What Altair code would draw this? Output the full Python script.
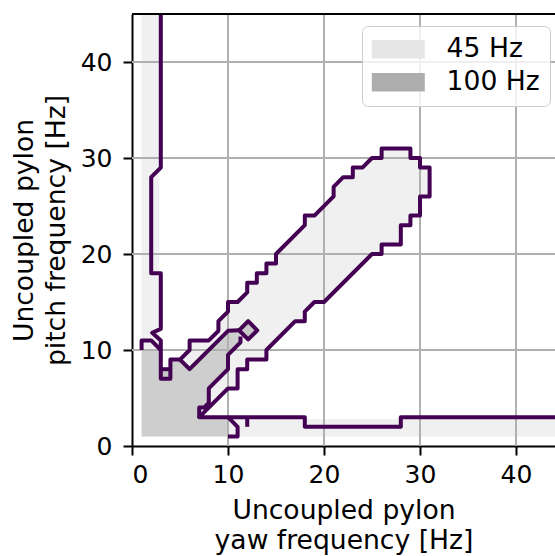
import altair as alt
import pandas as pd

# ---------------- data ----------------
X_TICKS = [0, 10, 20, 30, 40]
Y_TICKS = [0, 10, 20, 30, 40]
GRID_VALUES = [10, 20, 30, 40]
X_MAX = 44.06
Y_MAX = 45

# filled regions (polygon vertices in Hz)
FILL_LEFT_STRIP = [(1, 10), (2.85, 10), (2.85, 45), (1, 45)]
FILL_BOTTOM_STRIP = [(10, 1), (45, 1), (45, 2.8), (10, 2.8)]
FILL_BOX = [(3, 7), (4, 7), (4, 8), (3, 8)]
BAND_UPPER = [(5, 9), (6, 10), (6, 11), (8, 11), (9, 12), (9, 13), (10, 14), (10, 15),
              (11, 15), (12, 16), (12, 17), (13, 17), (13, 18), (14, 18), (14, 19),
              (15, 19), (15, 20), (18, 23), (18, 24), (19, 24), (21, 26), (21, 27),
              (22, 28), (23, 28), (23, 29), (24, 29), (25, 30), (26, 30), (26, 31),
              (29, 31), (29, 30), (30, 30), (30, 29), (31, 29), (31, 26)]
BAND_LOWER = [(30, 26), (30, 24), (29, 24), (29, 23), (28, 23), (28, 21), (26, 21),
              (26, 20), (25, 20), (20, 15), (19, 15), (18, 14), (18, 13), (17, 13),
              (14, 10), (14, 9), (12, 9), (12, 8), (11, 8), (11, 6), (10, 6), (7, 3)]
WEDGE_EDGE = [(7, 4), (7.5, 4), (8, 4.5), (8, 6), (10, 8), (10, 9.5), (11.3, 10.8),
              (11.3, 11.5), (11.2, 12), (10, 12), (6, 8), (5, 9)]
FILL_BAND = BAND_UPPER + BAND_LOWER + WEDGE_EDGE
FILL_DARK = [(1, 1), (10, 1), (10, 3), (7, 3), (7, 4), (7.5, 4), (8, 4.5), (8, 6),
             (10, 8), (10, 9.5), (11.3, 10.8), (11.3, 11.5), (11.2, 12), (10, 12),
             (6, 8), (5, 9), (4, 9), (4, 8), (3, 8), (3, 10), (1, 10)]
FILL_DIAMOND = [(11.15, 12.05), (12.1, 13.0), (13.05, 12.05), (12.1, 11.1)]

# purple contour paths
LINE_MAIN = ([(3, 45), (3, 29), (2, 28), (2, 18), (3, 18), (3, 12.2), (2.1, 11.8),
              (3, 11), (3, 7), (4, 7), (4, 9)] + BAND_UPPER + BAND_LOWER +
             [(12, 3), (18, 3), (18, 2), (28, 2), (28, 3), (45, 3)])
LINE_CAP = [(1, 10), (1, 11), (2, 11), (3, 10)]
LINE_BOX = [(3, 8), (4, 8)]
LINE_BOTTOM = [(10, 3), (11, 2), (11, 1), (10, 1)]
LINE_SPIKE = [(12, 3), (12, 2)]
LINE_WEDGE_LOW = [(7, 3), (7, 4), (7.5, 4), (8, 4.5), (8, 6), (10, 8), (10, 9.5),
                  (11.3, 10.8), (11.3, 11.4)]
LINE_WEDGE_UP = [(5, 9), (6, 8), (10, 12), (11.15, 12.05)]
LINE_DIAMOND = FILL_DIAMOND + [FILL_DIAMOND[0]]

LEGEND_LABELS = ["45 Hz", "100 Hz"]
LEGEND_COLORS = ["#e6e6e6", "#adadad"]


def poly_rows(name, label, pts):
    return [{"poly": name, "label": label, "x": p[0], "y": p[1], "o": i}
            for i, p in enumerate(pts)]


fill_rows = []
fill_rows += poly_rows("left", "45 Hz", FILL_LEFT_STRIP)
fill_rows += poly_rows("bottom", "45 Hz", FILL_BOTTOM_STRIP)
fill_rows += poly_rows("box", "45 Hz", FILL_BOX)
fill_rows += poly_rows("band", "45 Hz", FILL_BAND)
fill_rows += poly_rows("dark", "100 Hz", FILL_DARK)
fill_rows += poly_rows("diamond", "100 Hz", FILL_DIAMOND)
fills = pd.DataFrame(fill_rows)

line_rows = []
for nm, pts in [("main", LINE_MAIN), ("cap", LINE_CAP), ("box", LINE_BOX),
                ("bottom", LINE_BOTTOM), ("spike", LINE_SPIKE),
                ("wlow", LINE_WEDGE_LOW), ("wup", LINE_WEDGE_UP),
                ("diamond", LINE_DIAMOND)]:
    line_rows += poly_rows(nm, "", pts)
lines = pd.DataFrame(line_rows)

grid = pd.DataFrame({"v": GRID_VALUES})

FONT = "DejaVu Sans"
FS_TICK = 25
FS = 26.6

x_scale = alt.Scale(domain=[0, X_MAX], nice=False, zero=False)
y_scale = alt.Scale(domain=[0, Y_MAX], nice=False, zero=False)

x_axis = alt.Axis(values=X_TICKS, title=["Uncoupled pylon", "yaw frequency [Hz]"],
                  grid=False, tickSize=9, tickWidth=2, tickColor="black",
                  domainColor="black", domainWidth=2, labelFontSize=FS_TICK,
                  labelFont=FONT, labelColor="black", labelPadding=7,
                  titleFont=FONT, titleFontSize=FS, titleFontWeight="normal",
                  titleColor="black", titlePadding=10, titleLineHeight=30)
y_axis = alt.Axis(values=Y_TICKS, title=["Uncoupled pylon", "pitch frequency [Hz]"],
                  grid=False, tickSize=9, tickWidth=2, tickColor="black",
                  domainColor="black", domainWidth=2, labelFontSize=FS_TICK,
                  labelFont=FONT, labelColor="black", labelPadding=11,
                  titleFont=FONT, titleFontSize=FS, titleFontWeight="normal",
                  titleColor="black", titlePadding=10, titleLineHeight=32)

fill_layer = alt.Chart(fills).mark_line(interpolate="linear-closed", strokeWidth=0,
                                        opacity=0.6, clip=True).encode(
    x=alt.X("x:Q", scale=x_scale, axis=x_axis),
    y=alt.Y("y:Q", scale=y_scale, axis=y_axis),
    order="o:Q",
    detail="poly:N",
    fill=alt.Fill("label:N",
                  scale=alt.Scale(domain=LEGEND_LABELS, range=LEGEND_COLORS),
                  sort=LEGEND_LABELS,
                  legend=alt.Legend(title=None, orient="none", legendX=230,
                                    legendY=12,
                                    symbolType="M-2.85,-1H2.85V1H-2.85Z",
                                    symbolSize=346, symbolOpacity=1,
                                    symbolStrokeWidth=0, symbolOffset=13,
                                    labelFontSize=FS, labelFont=FONT,
                                    labelColor="black", rowPadding=6,
                                    padding=10, fillColor="rgba(255,255,255,0.8)",
                                    strokeColor="#cccccc",
                                    cornerRadius=6, labelOffset=35)),
)

vgrid = alt.Chart(grid).mark_rule(color="#b0b0b0", strokeWidth=2).encode(
    x=alt.X("v:Q", scale=x_scale))
hgrid = alt.Chart(grid).mark_rule(color="#b0b0b0", strokeWidth=2).encode(
    y=alt.Y("v:Q", scale=y_scale))

line_layer = alt.Chart(lines).mark_line(color="#440154", strokeWidth=4,
                                        strokeJoin="round", clip=True).encode(
    x=alt.X("x:Q", scale=x_scale),
    y=alt.Y("y:Q", scale=y_scale),
    order="o:Q",
    detail="poly:N",
)

top_spine = alt.Chart(pd.DataFrame({"v": [Y_MAX]})).mark_rule(
    color="black", strokeWidth=2).encode(y=alt.Y("v:Q", scale=y_scale))

chart = alt.layer(fill_layer, vgrid, hgrid, line_layer, top_spine).properties(
    width=423, height=432,
    padding={"left": 132, "top": 14, "right": 0, "bottom": 110},
    autosize=alt.AutoSizeParams(type="none"),
).configure_view(stroke=None).configure(background="white")

chart.save("out.html", embed_options={"renderer": "svg", "actions": False})
